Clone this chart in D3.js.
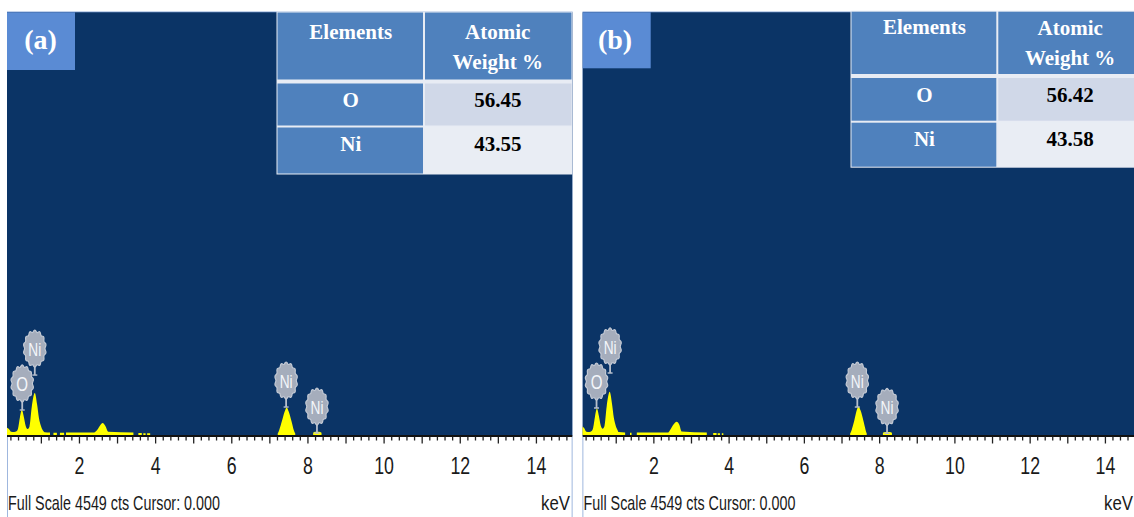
<!DOCTYPE html>
<html>
<head>
<meta charset="utf-8">
<script src="https://cdn.jsdelivr.net/npm/d3@7"></script>
<style>
  html, body { margin: 0; padding: 0; background: #ffffff; }
  svg { display: block; }
</style>
</head>
<body>
<svg id="chart" width="1134" height="517"></svg>
<script>
// EDS spectra (counts vs. energy in keV) of two nickel oxide samples,
// each with its element composition table.

const energyTickLabels = [2, 4, 6, 8, 10, 12, 14];
const majorTickValues = [1, 2, 3, 4, 5, 6, 7, 8, 9, 10, 11, 12, 13, 14, 15];
const minorTickStep = 0.2;
const fullScaleCts = 4549;
const cursorKeV = 0;
const panelTags = ['(a)', '(b)'];
const tableHeader = ['Elements', 'Atomic', 'Weight %'];
const tableElements = ['O', 'Ni'];
const atomicWeightA = [56.45, 43.55];
const atomicWeightB = [56.42, 43.58];

// Spectrum (a): energy (keV) and counts; null marks an empty stretch
const specA_keV = [0.10, 0.16, 0.22, 0.30, 0.36, 0.40, 0.45, 0.50, 0.55, 0.60, 0.65, 0.70, 0.76, 0.84, 0.90, 0.95, 1.00, 1.05, 1.10, 1.24, 1.25,
  1.33, 1.42, 1.43, 1.50, 1.61, 1.62, 1.66, 2.40, 2.46, 2.55, 2.62, 2.69, 2.77, 3.43, 3.44,
  3.56, 3.65, 3.66, 3.69, 3.75, 3.76, 3.79, 3.87, 3.88,
  7.22, 7.26, 7.33, 7.40, 7.455, 7.51, 7.58, 7.64, 7.68, 7.70,
  8.15, 8.20, 8.30, 8.37];
const specA_cts = [80, 65, 35, 32, 40, 70, 190, 271, 200, 100, 65, 90, 300, 451, 330, 180, 100, 50, 30, 28, null,
  25, 25, null, 25, 25, null, 28, 28, 45, 100, 129, 100, 35, 28, null,
  22, 22, null, 20, 20, null, 20, 20, null,
  15, 55, 150, 250, 297, 250, 150, 55, 15, null,
  25, 35, 35, 25];

// Spectrum (b)
const specB_keV = [0.10, 0.16, 0.22, 0.30, 0.36, 0.40, 0.45, 0.50, 0.55, 0.60, 0.65, 0.70, 0.76, 0.84, 0.90, 0.95, 1.00, 1.05, 1.07, 1.25, 1.26,
  1.38, 1.42, 1.43, 1.56, 2.40, 2.44, 2.53, 2.62, 2.69, 2.75, 3.42, 3.43,
  3.59, 3.68, 3.69, 3.71, 3.77, 3.78, 3.82, 3.86, 3.87,
  7.23, 7.27, 7.34, 7.40, 7.45, 7.51, 7.58, 7.64, 7.67, 7.70,
  8.10, 8.16, 8.28, 8.34];
const specB_cts = [93, 75, 35, 32, 42, 75, 200, 286, 210, 105, 68, 95, 310, 465, 340, 185, 100, 50, 32, 28, null,
  25, 25, null, 28, 28, 50, 110, 143, 110, 38, 28, null,
  22, 22, null, 20, 20, null, 20, 20, null,
  15, 55, 155, 260, 308, 260, 155, 55, 15, null,
  25, 32, 32, 25];

// Element line markers: label, energy and the count level of the marker tip
const markerElements = ['O', 'Ni', 'Ni', 'Ni'];
const markerA_keV = [0.51, 0.84, 7.44, 8.25];
const markerA_cts = [269, 645, 301, 21];
const markerB_keV = [0.49, 0.85, 7.42, 8.21];
const markerB_cts = [290, 667, 301, 18];

// ---- layout ----
const NAVY = '#0b3466';
const PLOT_TOP = 12.3;
const AXIS_Y = 436;
const BASE_Y = 435;
const STEM = 9;
const NARROW = '"Liberation Sans Narrow", "Arial Narrow", "Liberation Sans", Arial, sans-serif';
const SERIF = '"Liberation Serif", "Times New Roman", serif';

const panels = [
  {
    tag: panelTags[0], keV: specA_keV, cts: specA_cts, mkKeV: markerA_keV, mkCts: markerA_cts, weights: atomicWeightA,
    left: 7, right: 572.5, kev0: 2.8, pxPerKeV: 38.08, unitRight: 570,
    table: { x0: 277.5, xm: 424, x1: 571.5, y0: 12.5, yh: 81.5, yr: 126.5, y1: 173.5, ty: [31.5, 31.5, 61.5, 99.5, 144] },
    tagBox: { x1: 75, y1: 70 }, tagPos: [40.5, 40]
  },
  {
    tag: panelTags[1], keV: specB_keV, cts: specB_cts, mkKeV: markerB_keV, mkCts: markerB_cts, weights: atomicWeightB,
    left: 582.5, right: 1143, kev0: 578.1, pxPerKeV: 37.63, unitRight: 1133,
    table: { x0: 851.5, xm: 997.3, x1: 1143, y0: 11.7, yh: 76, yr: 121.7, y1: 166.7, ty: [27, 27.5, 58, 95, 138.5] },
    tagBox: { x1: 650.7, y1: 68.3 }, tagPos: [615, 40]
  }
];

const svg = d3.select('#chart');
const defs = svg.append('defs');

const y = d3.scaleLinear().domain([0, fullScaleCts]).range([BASE_Y, PLOT_TOP]);

// scalloped bubble outline used for the element markers
function bubblePath(rx, ry) {
  const n = 72, lobes = 14;
  const pts = d3.range(n).map(i => {
    const t = (i / n) * 2 * Math.PI;
    const k = 1 + 0.06 * Math.cos(lobes * t);
    return [rx * k * Math.sin(t), -ry * k * Math.cos(t)];
  });
  return d3.line().curve(d3.curveCardinalClosed)(pts);
}

// condensed text: draws at (x, y) squeezed horizontally by sx
function narrowText(sel, xx, yy, sx, s) {
  return sel.append('text')
    .attr('transform', `translate(${xx},${yy}) scale(${sx},1)`)
    .text(s);
}

panels.forEach((p, pi) => {
  const x = d3.scaleLinear().domain([0, 15]).range([p.kev0, p.kev0 + 15 * p.pxPerKeV]);
  const clipId = 'clip' + pi;
  defs.append('clipPath').attr('id', clipId)
    .append('rect').attr('x', p.left).attr('y', 0).attr('width', p.right - p.left).attr('height', 517);

  const g = svg.append('g').attr('clip-path', `url(#${clipId})`);

  // frame and plot background
  g.append('rect').attr('x', p.left).attr('y', PLOT_TOP).attr('width', p.right - p.left).attr('height', 540)
    .attr('fill', '#ffffff').attr('stroke', '#87a6d6').attr('stroke-width', 1.6);
  g.append('rect').attr('x', p.left).attr('y', PLOT_TOP).attr('width', p.right - p.left).attr('height', AXIS_Y - PLOT_TOP)
    .attr('fill', NAVY);

  // spectrum
  const idx = d3.range(p.keV.length);
  const area = d3.area()
    .defined(i => p.cts[i] != null)
    .x(i => x(p.keV[i]))
    .y0(y(0))
    .y1(i => y(p.cts[i]))
    .curve(d3.curveMonotoneX);
  g.append('path').datum(idx).attr('d', area).attr('fill', '#ffff00');

  // x axis: line, minor ticks every 0.2 keV, longer ticks every keV, labels every 2 keV
  g.append('line').attr('x1', p.left).attr('x2', p.right).attr('y1', AXIS_Y).attr('y2', AXIS_Y)
    .attr('stroke', '#111').attr('stroke-width', 2);
  const minorVals = d3.range(1, 76).map(i => +(i * minorTickStep).toFixed(1)).filter(v => !majorTickValues.includes(v));
  const minorAxis = d3.axisBottom(x).tickValues(minorVals).tickSize(4).tickFormat('');
  const majorAxis = d3.axisBottom(x).tickValues(majorTickValues).tickSize(7).tickFormat('');
  [minorAxis, majorAxis].forEach(ax => {
    const ga = g.append('g').attr('transform', `translate(0,${AXIS_Y + 0.5})`).call(ax);
    ga.select('.domain').remove();
    ga.selectAll('.tick line').attr('stroke', '#222').attr('stroke-width', 1.3);
  });
  const labelAxis = d3.axisBottom(x).tickValues(energyTickLabels).tickSize(0).tickPadding(0).tickFormat(d3.format('d'));
  const gl = g.append('g').attr('transform', `translate(0,${AXIS_Y})`).call(labelAxis);
  gl.select('.domain').remove();
  gl.selectAll('.tick text')
    .attr('y', 0).attr('dy', 0)
    .attr('transform', 'translate(0,38) scale(0.74,1)')
    .attr('font-family', NARROW)
    .attr('font-size', 24).attr('fill', '#1a1a1a');

  // status line
  g.append('text').attr('x', p.left + 1).attr('y', 510)
    .attr('font-family', NARROW)
    .attr('font-size', 21).attr('fill', '#1a1a1a')
    .attr('textLength', 212).attr('lengthAdjust', 'spacingAndGlyphs')
    .text(`Full Scale ${fullScaleCts} cts Cursor: ${cursorKeV.toFixed(3)}`);
  narrowText(g, p.unitRight, 510, 0.8, 'keV')
    .attr('text-anchor', 'end')
    .attr('font-family', NARROW)
    .attr('font-size', 21).attr('fill', '#1a1a1a');

  // element markers
  const bp = bubblePath(10.8, 17.5);
  p.mkKeV.forEach((kv, i) => {
    const cx = x(kv);
    const tip = y(p.mkCts[i]);
    const cy = tip - STEM - 17.5;
    const mg = g.append('g');
    mg.append('line').attr('x1', cx).attr('x2', cx).attr('y1', cy + 15).attr('y2', tip)
      .attr('stroke', '#b7bfcc').attr('stroke-width', 1.8);
    mg.append('line').attr('x1', cx - 2.5).attr('x2', cx + 2.5).attr('y1', tip).attr('y2', tip)
      .attr('stroke', '#b7bfcc').attr('stroke-width', 1.4);
    mg.append('path').attr('d', bp).attr('transform', `translate(${cx},${cy})`)
      .attr('fill', '#a5adbc').attr('stroke', '#c3c9d4').attr('stroke-width', 1.2);
    narrowText(mg, cx, cy + 7, 0.72, markerElements[i])
      .attr('text-anchor', 'middle')
      .attr('font-family', NARROW)
      .attr('font-size', markerElements[i] === 'O' ? 21 : 19)
      .attr('fill', '#f4f6fa');
  });

  // panel tag
  g.append('rect').attr('x', p.left).attr('y', PLOT_TOP).attr('width', p.tagBox.x1 - p.left).attr('height', p.tagBox.y1 - PLOT_TOP)
    .attr('fill', '#5a8bd4');
  g.append('text').attr('x', p.tagPos[0]).attr('y', p.tagPos[1]).attr('dy', '0.33em').attr('text-anchor', 'middle')
    .attr('font-family', SERIF).attr('font-weight', 'bold')
    .attr('font-size', 28).attr('fill', '#ffffff').text(p.tag);

  // composition table
  const t = p.table;
  const tg = g.append('g');
  const cell = (x0, y0, x1, y1, fill) => tg.append('rect').attr('x', x0).attr('y', y0)
    .attr('width', x1 - x0).attr('height', y1 - y0).attr('fill', fill);
  cell(t.x0 - 1, t.y0 - 1, t.x1 + 1, t.y1 + 1, '#e8ecf4');
  cell(t.x0, t.y0, t.xm - 1, t.yh - 2, '#4f81bd');
  cell(t.xm + 1, t.y0, t.x1, t.yh - 2, '#4f81bd');
  cell(t.x0, t.yh + 2, t.xm - 1, t.yr - 1, '#4f81bd');
  cell(t.xm + 1, t.yh + 2, t.x1, t.yr - 1, '#d0d8e8');
  cell(t.x0, t.yr + 1, t.xm - 1, t.y1, '#4f81bd');
  cell(t.xm + 1, t.yr + 1, t.x1, t.y1, '#e9edf4');

  const c1 = (t.x0 + t.xm) / 2, c2 = (t.xm + t.x1) / 2;
  const tt = (xx, yy, s, fill) => tg.append('text').attr('x', xx).attr('y', yy).attr('dy', '0.34em')
    .attr('text-anchor', 'middle')
    .attr('font-family', SERIF).attr('font-weight', 'bold')
    .attr('font-size', 21).attr('fill', fill).text(s);
  tt(c1, t.ty[0], tableHeader[0], '#ffffff');
  tt(c2, t.ty[1], tableHeader[1], '#ffffff');
  tt(c2, t.ty[2], tableHeader[2], '#ffffff');
  tt(c1, t.ty[3], tableElements[0], '#ffffff');
  tt(c2, t.ty[3], p.weights[0].toFixed(2), '#000000');
  tt(c1, t.ty[4], tableElements[1], '#ffffff');
  tt(c2, t.ty[4], p.weights[1].toFixed(2), '#000000');
});
</script>
</body>
</html>
